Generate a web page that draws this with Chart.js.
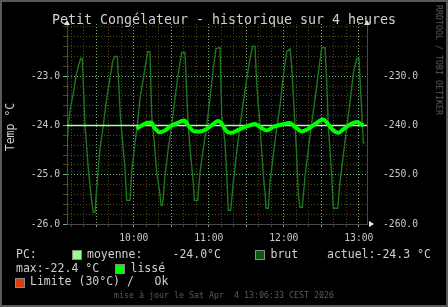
<!DOCTYPE html>
<html><head><meta charset="utf-8">
<script src="https://cdn.jsdelivr.net/npm/chart.js@4"></script>
<style>
html,body{margin:0;padding:0;background:#000;}
#wrap{position:relative;width:448px;height:307px;background:#000;overflow:hidden;}
#frame{position:absolute;left:0;top:0;width:444px;height:303px;border:2px solid #5a5a5a;pointer-events:none;}
canvas{position:absolute;left:0;top:0;}
.t{position:absolute;font-family:"DejaVu Sans Mono",monospace;white-space:pre;color:#d0d0d0;line-height:1;}
.sw{position:absolute;width:8px;height:8px;border:1px solid #8a8a8a;}
</style></head>
<body>
<div id="wrap">
<canvas id="c" width="448" height="307"></canvas>
<div class="t" style="left:0;width:448px;text-align:center;top:12.7px;font-size:13.3px;">Petit Congélateur - historique sur 4 heures</div>
<div class="t" style="left:11px;top:127px;font-size:11.5px;transform:translate(-50%,-50%) rotate(-90deg);">Temp °C</div>
<div class="t" style="left:439px;top:60px;font-size:8.3px;color:#5e5e5e;transform:translate(-50%,-50%) rotate(90deg);">RRDTOOL / TOBI OETIKER</div>

<div class="t" style="left:16px;top:248.6px;font-size:11.5px;">PC:</div>
<div class="sw" style="left:72px;top:249.5px;background:#90ff90;"></div>
<div class="t" style="left:87px;top:248.6px;font-size:11.5px;">moyenne:</div>
<div class="t" style="left:172.5px;top:248.6px;font-size:11.5px;">-24.0°C</div>
<div class="sw" style="left:255px;top:249.5px;background:#0b5a0b;"></div>
<div class="t" style="left:270.5px;top:248.6px;font-size:11.5px;">brut</div>
<div class="t" style="left:327px;top:248.6px;font-size:11.5px;">actuel:-24.3 °C</div>

<div class="t" style="left:16px;top:262.6px;font-size:11.5px;">max:-22.4 °C</div>
<div class="sw" style="left:115px;top:263.5px;background:#00ff00;"></div>
<div class="t" style="left:130.5px;top:262.6px;font-size:11.5px;">lissé</div>

<div class="sw" style="left:15px;top:277.5px;background:#dd3a10;"></div>
<div class="t" style="left:30px;top:276.4px;font-size:11.5px;">Limite (30°C) /   Ok</div>

<div class="t" style="left:0;width:448px;text-align:center;top:291.3px;font-size:8.3px;color:#5a5a5a;">mise à jour le Sat Apr  4 13:06:33 CEST 2026</div>
<div id="frame"></div>
</div>
<script>
// time in minutes since midnight
const startMin = 546.55, endMin = 786.55;
const brutTimes = [546.55,547.59,548.95,551.59,553.75,555.59,557.51,558.79,559.59,560.95,563.59,566.31,567.59,568.95,
570.31,572.95,575.59,578.31,580.95,583.11,584.95,586.79,588.95,590.31,592.95,594.31,596.95,
598.31,600.95,602.79,604.95,608.95,611.11,612.95,614.31,616.39,618.31,620.95,621.75,622.95,
624.95,627.59,630.31,632.95,635.59,638.31,640.95,643.11,644.95,647.59,648.39,651.11,
652.95,655.59,658.31,660.95,663.59,665.75,668.95,670.31,672.95,674.31,675.59,677.51,
679.59,682.31,684.95,687.59,690.31,692.95,695.11,696.95,698.31,700.95,703.59,704.95,705.75,707.59,
708.95,711.59,714.31,716.95,719.59,722.31,724.95,726.31,728.95,730.31,731.59,732.95,734.79,
736.95,739.59,742.31,744.95,747.59,750.31,752.95,754.31,755.59,758.31,759.59,763.11,
764.95,767.59,770.31,772.95,775.59,778.31,780.15,781.75,783.59,784.95];
const brutValues = [-24.47,-24.0,-23.7,-23.35,-23.0,-22.8,-22.64,-22.64,-23.15,-24.0,-24.87,-25.55,-25.76,-25.76,
-25.27,-24.47,-24.0,-23.45,-23.04,-22.7,-22.6,-22.6,-23.67,-24.14,-24.87,-25.52,-25.52,
-24.95,-24.35,-24.0,-23.45,-22.84,-22.5,-22.5,-23.8,-24.35,-24.95,-25.4,-25.62,-25.62,
-25.0,-24.47,-24.0,-23.45,-22.94,-22.52,-22.52,-23.8,-24.47,-25.15,-25.52,-25.52,
-24.95,-24.47,-24.0,-23.45,-22.84,-22.44,-22.42,-23.8,-24.35,-25.0,-25.72,-25.72,
-25.15,-24.55,-24.0,-23.53,-23.06,-22.64,-22.39,-22.39,-23.15,-24.0,-25.0,-25.35,-25.68,-25.68,
-25.15,-24.6,-24.06,-23.6,-23.0,-22.5,-22.44,-22.8,-24.0,-24.6,-25.4,-25.66,-25.66,
-25.04,-24.5,-23.95,-23.47,-22.94,-22.42,-22.42,-23.1,-24.0,-25.0,-25.68,-25.68,
-25.15,-24.6,-24.06,-23.53,-22.94,-22.64,-22.64,-23.45,-24.35,-24.35];
const lisseTimes = [602.31,606.31,610.31,613.75,616.95,620.95,624.95,630.31,635.59,640.39,643.59,648.39,
652.95,658.31,663.59,667.59,670.55,674.31,678.31,683.59,690.31,696.95,700.95,706.31,711.59,718.31,
724.95,728.95,734.31,739.59,744.95,751.59,755.59,759.59,763.59,767.59,772.95,778.31,783.59];
const lisseValues = [-24.07,-24.0,-23.95,-23.94,-24.06,-24.14,-24.1,-24.0,-23.94,-23.9,-24.0,-24.12,
-24.12,-24.07,-23.97,-23.91,-23.97,-24.12,-24.15,-24.09,-24.02,-23.97,-24.03,-24.1,-24.03,-23.98,
-23.95,-24.03,-24.12,-24.07,-23.97,-23.88,-23.98,-24.1,-24.15,-24.08,-23.98,-23.93,-24.0];
const moyenneValue = -24.0;
const yMin = -26.0, yMax = -21.94;
const y2Factor = 10;

const majorGrid = '#78b478', minorGrid = '#4c4c18';
const tickFont = {family:'DejaVu Sans Mono', size:9.7};
const pad2 = n => (n<10?'0':'')+n;
const isMajorY = v => Math.abs(v-Math.round(v))<1e-6 && v<=-23;

const arrows = {
  id:'arrows',
  afterDraw(chart){
    const {ctx, chartArea:a} = chart;
    ctx.save();
    ctx.fillStyle = '#e8e8e8';
    const up = (x,y)=>{ctx.beginPath();ctx.moveTo(x-3,y+4);ctx.lineTo(x+3,y+4);ctx.lineTo(x,y-1);ctx.closePath();ctx.fill();};
    up(a.left, a.top-3);
    up(a.right, a.top-3);
    ctx.beginPath();ctx.moveTo(a.right+2,a.bottom-3);ctx.lineTo(a.right+2,a.bottom+3);ctx.lineTo(a.right+7,a.bottom);ctx.closePath();ctx.fill();
    ctx.restore();
  }
};

new Chart(document.getElementById('c'), {
  type:'line',
  data:{
    datasets:[
      {label:'lissé', data:lisseTimes.map((t,i)=>({x:t,y:lisseValues[i]})), borderColor:'#00ff00', borderWidth:4,
       pointRadius:0, cubicInterpolationMode:'monotone', order:1, yAxisID:'y'},
      {label:'moyenne', data:[{x:startMin,y:moyenneValue},{x:endMin,y:moyenneValue}], borderColor:'#a8ffa8', borderWidth:1.6,
       pointRadius:0, order:2, yAxisID:'y'},
      {label:'brut', data:brutTimes.map((t,i)=>({x:t,y:brutValues[i]})), borderColor:'#1c781c', borderWidth:1.4,
       pointRadius:0, tension:0, order:3, yAxisID:'y'}
    ]
  },
  options:{
    responsive:false, animation:false, devicePixelRatio:1,
    layout:{padding:{top:24,left:0,right:0,bottom:0}},
    plugins:{legend:{display:false}, tooltip:{enabled:false}, title:{display:false}},
    scales:{
      x:{type:'linear', min:startMin, max:endMin,
        afterBuildTicks:s=>{const t=[];for(let m=550;m<=780;m+=10)t.push({value:m});s.ticks=t;},
        afterFit:s=>{s.height=83;},
        grid:{color:c=>(c.tick && c.tick.value%30===0)?majorGrid:minorGrid, lineWidth:1, tickLength:3, drawTicks:true},
        border:{display:true, color:'#4a4a4a', dash:c=>(c.tick && c.tick.value%30===0)?[1,2]:[1,2]},
        ticks:{autoSkip:false, maxRotation:0, minRotation:0, color:'#c8c8c8', font:tickFont, padding:6,
          callback:v=> (v%60===0)? pad2(Math.floor(v/60))+':00' : ''}
      },
      y:{type:'linear', position:'left', min:yMin, max:yMax,
        afterBuildTicks:s=>{const t=[];for(let i=-130;i<=-110;i++)t.push({value:i/5});s.ticks=t;},
        afterFit:s=>{s.width=67;},
        grid:{color:c=>isMajorY(c.tick?c.tick.value:0)?majorGrid:minorGrid, lineWidth:1, tickLength:4, drawTicks:true},
        border:{display:true, color:'#4a4a4a', dash:[1,2]},
        ticks:{autoSkip:false, color:'#c8c8c8', font:tickFont, padding:3,
          callback:v=> isMajorY(v)? v.toFixed(1) : ''}
      },
      y2:{type:'linear', position:'right', min:yMin*y2Factor, max:yMax*y2Factor,
        afterBuildTicks:s=>{s.ticks=[-260,-250,-240,-230].map(v=>({value:v}));},
        afterFit:s=>{s.width=81;},
        grid:{display:false},
        border:{display:true, color:'#4a4a4a'},
        ticks:{autoSkip:false, color:'#c8c8c8', font:tickFont, padding:8, callback:v=>v.toFixed(1)}
      }
    }
  },
  plugins:[arrows]
});
</script>
</body></html>
